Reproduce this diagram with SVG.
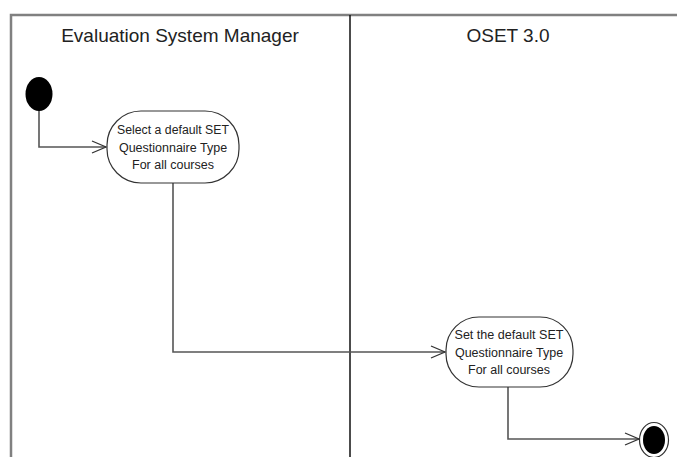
<svg xmlns="http://www.w3.org/2000/svg" width="677" height="457" viewBox="0 0 677 457">
<defs>
<style>
.lane{fill:none;stroke:#808080;stroke-width:2.5}
.div{stroke:#111;stroke-width:1.5}
.hdr{font-family:"Liberation Sans",Arial,sans-serif;font-size:19px;fill:#222;text-anchor:middle}
.act{fill:#fff;stroke:#333;stroke-width:1.2}
.lbl{font-family:"Liberation Sans",Arial,sans-serif;font-size:12.5px;fill:#222;text-anchor:middle}
.edge{fill:none;stroke:#555;stroke-width:1.6}
</style>
<marker id="open" viewBox="0 0 16 14" refX="15" refY="7" markerWidth="16" markerHeight="14" markerUnits="userSpaceOnUse" orient="auto">
<path d="M1,1 L15,7 L1,13" fill="none" stroke="#333" stroke-width="1.3"/>
</marker>
</defs>
<rect width="677" height="457" fill="#fff"/>
<g id="swimlanes">
<path class="lane" d="M11,457 V15 H677"/>
<line class="div" x1="350" y1="15" x2="350" y2="457"/>
<text class="hdr" x="180" y="42">Evaluation System Manager</text>
<text class="hdr" x="508" y="42">OSET 3.0</text>
</g>
<g id="connectors">
<path class="edge" d="M39,110 V147 H106" marker-end="url(#open)"/>
<path class="edge" d="M173,183 V352 H445" marker-end="url(#open)"/>
<path class="edge" d="M508,387 V439 H639" marker-end="url(#open)"/>
</g>
<g id="start">
<ellipse cx="39" cy="94" rx="13.5" ry="17" fill="#000"/>
</g>
<g id="select-default">
<rect class="act" x="107" y="111" width="132" height="72" rx="34" ry="34"/>
<text class="lbl" x="173" y="134" textLength="112" lengthAdjust="spacingAndGlyphs">Select a default SET</text>
<text class="lbl" x="173" y="152">Questionnaire Type</text>
<text class="lbl" x="173" y="169">For all courses</text>
</g>
<g id="set-default">
<rect class="act" x="446" y="317" width="127" height="70" rx="33" ry="33"/>
<text class="lbl" x="509" y="339" textLength="109" lengthAdjust="spacingAndGlyphs">Set the default SET</text>
<text class="lbl" x="509" y="357">Questionnaire Type</text>
<text class="lbl" x="509" y="374">For all courses</text>
</g>
<g id="end">
<ellipse cx="654" cy="440" rx="14.5" ry="17.5" fill="#fff" stroke="#333" stroke-width="1.2"/>
<ellipse cx="654" cy="440" rx="11" ry="14" fill="#000"/>
</g>
</svg>
